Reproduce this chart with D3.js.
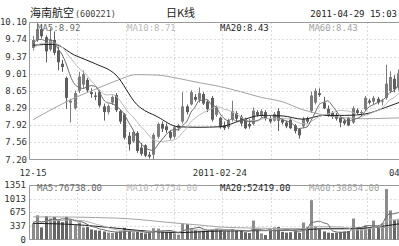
<!DOCTYPE html>
<html>
<head>
<meta charset="utf-8">
<script src="https://cdn.jsdelivr.net/npm/d3@7"></script>
<style>
  body { margin: 0; background: #fff; }
  svg { display: block; font-family: "DejaVu Sans Mono", monospace; }
</style>
</head>
<body>
<svg id="chart" width="399" height="246"></svg>
<script>
// daily candles, 2010-12-15 .. 2011-04-29
var opens  = [9.55,9.72,9.95,9.78,9.52,9.72,9.50,9.22,8.92,8.40, 8.28,8.65,8.78,8.88,8.62,8.55,8.62,8.32,8.20,8.40,
              8.56,8.22,8.15,7.70,7.58,7.76,7.45,7.50,7.30,7.30, 7.68,7.95,7.90,7.78,7.68,7.86,8.00,8.32,8.36,8.52,
              8.46,8.58,8.42,8.50,8.14,8.08,7.92,7.88,8.05,8.18, 8.10,8.06,7.95,7.95,8.20,8.12,8.20,8.06,8.02,8.22,
              8.04,7.98,8.04,7.92,7.84,7.90,8.06,8.22,8.40,8.60, 8.40,8.27,8.18,8.14,8.08,8.02,8.08,7.98,8.24,8.18,
              8.26,8.44,8.42,8.48,8.42,8.50,8.64,8.90,8.72,9.00];
var highs  = [9.80,10.08,10.05,9.82,9.98,9.90,9.58,9.30,8.95,8.48, 8.65,9.05,9.08,8.92,8.70,8.62,8.66,8.38,8.36,8.55,
              8.60,8.25,8.18,7.78,7.82,7.80,7.55,7.52,7.36,7.76, 7.98,8.00,7.96,7.82,7.92,7.95,8.62,8.36,8.66,8.58,
              8.72,8.62,8.45,8.54,8.34,8.10,8.00,8.06,8.44,8.22, 8.14,8.08,8.05,8.30,8.24,8.26,8.24,8.12,8.20,8.28,
              8.08,8.02,8.08,7.95,7.86,8.10,8.10,8.63,8.70,8.70, 8.52,8.34,8.22,8.18,8.12,8.06,8.10,8.32,8.28,8.24,
              8.54,8.48,8.54,8.52,8.48,9.20,9.06,8.98,9.10,9.18];
var lows   = [9.50,9.68,9.75,9.25,9.48,9.40,9.08,9.05,8.27,7.98, 8.25,8.60,8.70,8.62,8.50,8.45,8.30,8.02,8.15,8.35,
              8.20,7.95,7.62,7.39,7.55,7.34,7.28,7.25,7.22,7.20, 7.64,7.78,7.76,7.62,7.64,7.80,7.96,8.15,8.34,8.42,
              8.40,8.35,8.20,8.00,8.10,7.85,7.82,7.84,8.00,8.00, 7.90,7.84,7.85,7.92,8.10,8.08,8.02,7.96,8.00,7.80,
              7.94,7.86,7.84,7.75,7.64,7.86,7.96,8.18,8.36,8.52, 8.26,8.10,8.06,8.02,7.88,7.92,7.90,7.95,8.14,8.10,
              8.22,8.36,8.36,8.36,8.34,8.46,8.60,8.62,8.66,8.90];
var closes = [9.72,9.95,9.80,9.48,9.72,9.45,9.25,9.15,8.50,8.44, 8.60,8.95,9.00,8.66,8.58,8.52,8.34,8.20,8.33,8.52,
              8.24,8.00,7.66,7.52,7.78,7.38,7.32,7.28,7.26,7.72, 7.95,7.85,7.82,7.66,7.88,7.92,8.32,8.20,8.62,8.46,
              8.60,8.38,8.26,8.04,8.30,7.88,7.86,8.02,8.22,8.06, 7.96,7.86,7.90,8.23,8.14,8.22,8.06,8.00,8.16,8.02,
              7.98,7.90,7.86,7.80,7.71,8.06,8.00,8.55,8.65,8.56, 8.28,8.14,8.10,8.06,7.98,7.96,7.92,8.28,8.18,8.20,
              8.50,8.40,8.50,8.40,8.44,8.80,8.94,8.68,9.02,9.10];
var volumes = [400,600,300,575,520,560,480,430,560,500, 360,420,300,310,250,230,220,200,170,160,
               180,200,290,210,180,190,170,150,160,280, 270,200,180,190,150,120,400,380,280,230,
               210,220,200,260,270,230,200,220,260,220, 210,180,160,470,240,150,110,250,300,310,
               190,170,180,220,160,420,300,975,330,250, 200,170,160,170,190,200,210,520,300,260,
               350,300,470,330,400,1250,720,480,500,540];

// closes / volumes of the days before the first candle (for MA5 / MA10)
var prevCloses  = [9.20,9.35,9.50,9.42,9.60,9.58,9.72,9.65,9.55];
var prevVolumes = [420,380,450,520,480,400,430,460,390];

// MA20 / MA60 at every 5th candle
var maSampleIdx = [0,5,10,15,20,25,30,35,40,45,50,55,60,65,70,75,80,85,89];
var ma20Price = [9.61,9.63,9.40,9.22,8.98,8.36,8.10,7.89,7.88,7.89,8.02,8.13,8.12,8.05,8.13,8.13,8.16,8.30,8.43];
var ma60Price = [8.04,8.28,8.50,8.68,8.86,8.99,8.98,8.91,8.82,8.74,8.63,8.51,8.42,8.25,8.14,8.08,8.06,8.07,8.08];
var ma20Vol   = [400,390,370,330,280,230,190,170,190,210,215,220,225,240,265,265,280,340,400];
var ma60Vol   = [560,560,555,545,530,500,450,400,360,310,290,280,270,270,280,280,285,300,320];

var priceTicks  = [7.20,7.56,7.92,8.29,8.65,9.01,9.37,9.74,10.10];
var volumeTicks = [0,337,675,1013,1351];
var dateIdx    = [0,45,89];
var dateLabels = ["12-15","2011-02-24","04-29"];
var priceMaLabels = ["MA5:8.92","MA10:8.71","MA20:8.43","MA60:8.43"];
var volMaLabels   = ["MA5:76738.00","MA10:73754.00","MA20:52419.00","MA60:38854.00"];
var maColors = ["#6a6a6a","#b9b9b9","#1e1e1e","#a2a2a2"];

function movingAvg(prev, vals, n) {
  var all = prev.concat(vals);
  return vals.map(function (v, i) {
    var end = prev.length + i + 1;
    return d3.mean(all.slice(end - n, end));
  });
}

var svg = d3.select("#chart");
var left = 30, right = 404;
var main = { top: 22, bottom: 159.5 };
var vol = { top: 185, bottom: 239.5 };

var x = d3.scaleLinear().domain([-0.5, 89.5]).range([31, 404.5]);
var y = d3.scaleLinear().domain([7.20, 10.10]).range([main.bottom, main.top]);
var yv = d3.scaleLinear().domain([0, 1351]).range([vol.bottom, vol.top]);

var gridX = d3.range(1, 8).map(function (k) { return 29 + k * 48.3; });

function drawGrid(panel, ticks, scale) {
  var g = svg.append("g").attr("stroke", "#dcdcdc").attr("stroke-dasharray", "2,2");
  g.selectAll("line.h").data(ticks.slice(1, -1)).enter().append("line")
    .attr("x1", left).attr("x2", 399)
    .attr("y1", function (d) { return Math.round(scale(d)) + 0.5; })
    .attr("y2", function (d) { return Math.round(scale(d)) + 0.5; });
  g.selectAll("line.v").data(gridX).enter().append("line")
    .attr("x1", function (d) { return Math.round(d) + 0.5; })
    .attr("x2", function (d) { return Math.round(d) + 0.5; })
    .attr("y1", panel.top).attr("y2", panel.bottom);
  svg.append("path")
    .attr("d", "M399," + (panel.top + 0.5) + "H" + (left - 0.5) + "V" + panel.bottom + "H399")
    .attr("fill", "none").attr("stroke", "#9a9a9a");
}

drawGrid(main, priceTicks, y);
drawGrid(vol, volumeTicks, yv);

/**
 * Candles
 */
var idx = d3.range(closes.length);
var candles = svg.append("g");
candles.selectAll("line").data(idx).enter().append("line")
  .attr("x1", function (i) { return Math.round(x(i)) + 0.5; })
  .attr("x2", function (i) { return Math.round(x(i)) + 0.5; })
  .attr("y1", function (i) { return y(highs[i]); })
  .attr("y2", function (i) { return y(lows[i]); })
  .attr("stroke", function (i) { return closes[i] >= opens[i] ? "#7c7c7c" : "#5e5e5e"; });
candles.selectAll("rect").data(idx).enter().append("rect")
  .attr("x", function (i) { return Math.round(x(i)) - 1; })
  .attr("width", 3)
  .attr("y", function (i) { return y(Math.max(opens[i], closes[i])); })
  .attr("height", function (i) { return Math.max(1, Math.abs(y(opens[i]) - y(closes[i]))); })
  .attr("fill", function (i) { return closes[i] >= opens[i] ? "#7c7c7c" : "#5e5e5e"; });

/**
 * Volume bars
 */
svg.append("g").selectAll("rect").data(idx).enter().append("rect")
  .attr("x", function (i) { return Math.round(x(i)) - 1; })
  .attr("width", 3)
  .attr("y", function (i) { return yv(volumes[i]); })
  .attr("height", function (i) { return yv(0) - yv(volumes[i]); })
  .attr("fill", function (i) { return closes[i] >= opens[i] ? "#8c8c8c" : "#666"; });

/**
 * Moving averages
 */
function drawLine(xs, vals, scale, color) {
  var line = d3.line()
    .x(function (d, k) { return x(xs[k]); })
    .y(function (d) { return scale(d); })
    .curve(d3.curveMonotoneX);
  svg.append("path").attr("d", line(vals))
    .attr("fill", "none").attr("stroke", color).attr("stroke-width", 1);
}

drawLine(maSampleIdx, ma60Price, y, maColors[3]);
drawLine(maSampleIdx, ma20Price, y, maColors[2]);
drawLine(idx, movingAvg(prevCloses, closes, 10), y, maColors[1]);
drawLine(idx, movingAvg(prevCloses, closes, 5), y, maColors[0]);

drawLine(maSampleIdx, ma60Vol, yv, maColors[3]);
drawLine(maSampleIdx, ma20Vol, yv, maColors[2]);
drawLine(idx, movingAvg(prevVolumes, volumes, 10), yv, maColors[1]);
drawLine(idx, movingAvg(prevVolumes, volumes, 5), yv, maColors[0]);

/**
 * Texts
 */
var labelX = [37, 127, 220, 309];
svg.append("g").attr("font-size", 9).selectAll("text").data(priceMaLabels).enter().append("text")
  .attr("x", function (d, k) { return labelX[k]; }).attr("y", 31)
  .attr("fill", function (d, k) { return maColors[k]; })
  .text(function (d) { return d; });
svg.append("g").attr("font-size", 9).selectAll("text").data(volMaLabels).enter().append("text")
  .attr("x", function (d, k) { return labelX[k]; }).attr("y", 191)
  .attr("fill", function (d, k) { return maColors[k]; })
  .text(function (d) { return d; });

svg.append("g").attr("font-size", 9).attr("fill", "#333").attr("text-anchor", "end")
  .selectAll("text").data(priceTicks).enter().append("text")
  .attr("x", 27).attr("y", function (d) { return y(d) + 3; })
  .text(function (d) { return d.toFixed(2); });
svg.append("g").attr("font-size", 9).attr("fill", "#333").attr("text-anchor", "end")
  .selectAll("text").data(volumeTicks).enter().append("text")
  .attr("x", 26).attr("y", function (d) { return yv(d) + 3; })
  .text(function (d) { return d; });

svg.append("g").attr("font-size", 9).attr("fill", "#333").attr("text-anchor", "middle")
  .selectAll("text").data(dateLabels).enter().append("text")
  .attr("x", function (d, k) { return x(dateIdx[k]); }).attr("y", 176)
  .text(function (d) { return d; });

var cjk = '"Noto Sans CJK SC", sans-serif';
svg.append("text").attr("x", 30).attr("y", 17).attr("font-size", 11)
  .attr("font-family", cjk).attr("fill", "#222").text("海南航空");
svg.append("text").attr("x", 75).attr("y", 17).attr("font-size", 8.5)
  .attr("fill", "#444").text("(600221)");
svg.append("text").attr("x", 166).attr("y", 17).attr("font-size", 11)
  .attr("font-family", cjk).attr("fill", "#222").text("日K线");
svg.append("text").attr("x", 397).attr("y", 17).attr("font-size", 9)
  .attr("text-anchor", "end").attr("fill", "#222").text("2011-04-29 15:03");
</script>
</body>
</html>
